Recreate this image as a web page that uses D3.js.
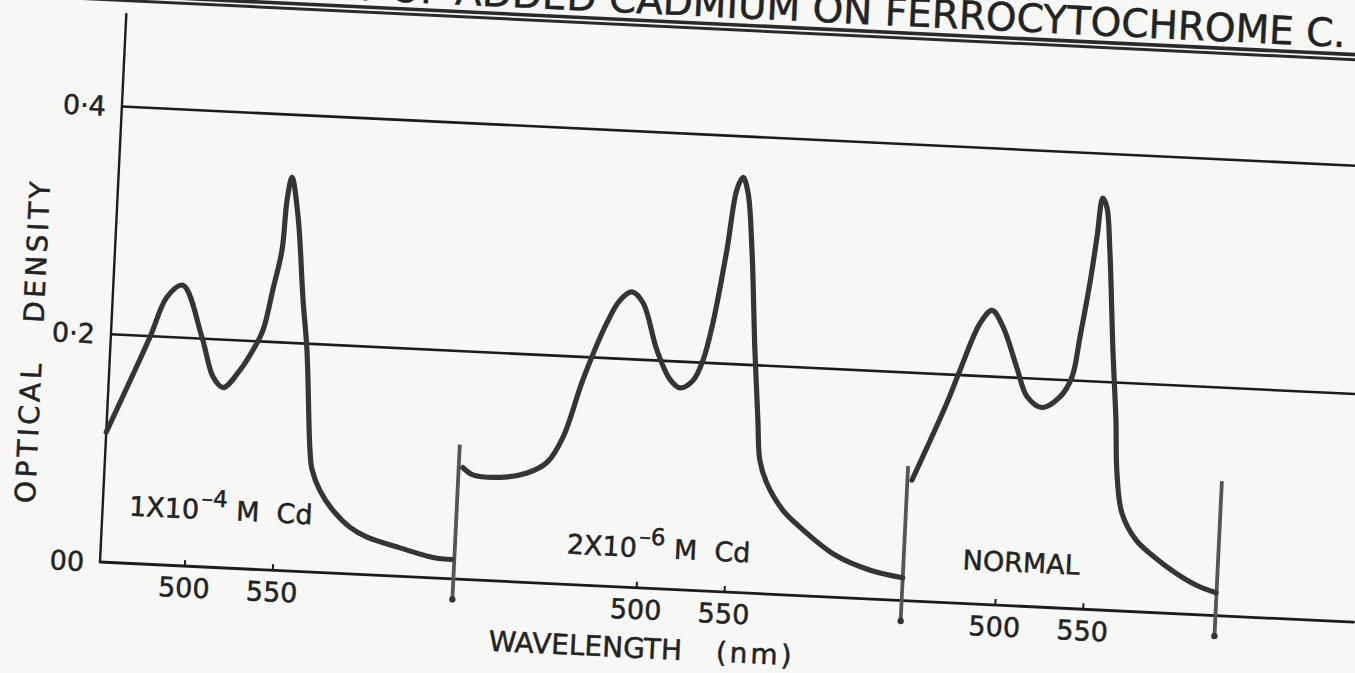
<!DOCTYPE html>
<html>
<head>
<meta charset="utf-8">
<script src="https://cdn.jsdelivr.net/npm/d3@7"></script>
<style>
  html, body { margin: 0; padding: 0; background: #f7f7f5; }
  svg { display: block; }
  text { font-family: "DejaVu Sans", "Noto Sans", sans-serif; fill: #232323; stroke: #232323; stroke-width: 0.5px; }
</style>
</head>
<body>
<script>
// ---- Data ---------------------------------------------------------------
const titleText = "EFFECT OF ADDED CADMIUM ON FERROCYTOCHROME C.";
const yTitle = "OPTICAL   DENSITY";
const xTitle = "WAVELENGTH";
const xUnit = "(nm)";

const odTicks = [0, 0.2, 0.4];
const odTickLabels = ["00", "0\u00B72", "0\u00B74"];
const odAxisTop = 0.482;
const nmTicks = [500, 550];

// wavelength span (nm) covered by each of the three side-by-side spectra
const panelNm = [[452, 653], [396, 651], [447, 625.5]];
const panelNames = ["1X10", "2X10", "NORMAL"];
const panelExponents = ["\u20134", "\u20136", ""];
const panelSuffix = ["M Cd", "M Cd", ""];

// separators between spectra: optical density span of each stroke
const sepOd = [-0.018, 0.118];

// 1x10^-4 M Cd
const cd4Nm = [452, 474.2, 482.8, 491.5, 503.8, 511.1, 517.1, 526.2, 533.0, 538.2, 542.7, 546.8, 548.3, 550.5, 555.0, 560.1, 563.7, 568.1, 569.8, 574.8, 582.8, 592.9, 602.9, 621.9, 640.9, 651.7];
const cd4Od = [0.114, 0.199, 0.235, 0.246, 0.201, 0.167, 0.158, 0.174, 0.192, 0.210, 0.246, 0.281, 0.325, 0.345, 0.311, 0.238, 0.194, 0.107, 0.090, 0.072, 0.055, 0.041, 0.033, 0.025, 0.018, 0.017];

// 2x10^-6 M Cd
const cd6Nm = [398.4, 404.3, 419.6, 434.9, 445.9, 454.4, 464.1, 476.2, 482.9, 489.5, 496.1, 505.3, 513.5, 519.4, 526.6, 531.7, 536.3, 542.3, 546.3, 549.5, 552.7, 556.5, 560.9, 564.5, 566.7, 571.3, 581.2, 591.3, 612.0, 632.8, 651];
const cd6Od = [0.098, 0.092, 0.091, 0.096, 0.106, 0.129, 0.180, 0.231, 0.251, 0.259, 0.250, 0.209, 0.184, 0.177, 0.184, 0.202, 0.235, 0.300, 0.353, 0.364, 0.351, 0.301, 0.213, 0.152, 0.117, 0.097, 0.074, 0.060, 0.037, 0.025, 0.020];

// normal
const normNm = [449.6, 467.3, 473.8, 483.9, 490.4, 497.1, 506.0, 512.6, 521.4, 531.3, 537.6, 541.0, 545.2, 548.0, 550.2, 552.8, 555.6, 560.1, 563.7, 565.7, 569.6, 578.3, 589.0, 601.4, 613.6, 625.2];
const normOd = [0.106, 0.175, 0.204, 0.246, 0.258, 0.244, 0.209, 0.184, 0.175, 0.185, 0.203, 0.238, 0.286, 0.327, 0.361, 0.353, 0.316, 0.228, 0.167, 0.121, 0.086, 0.063, 0.049, 0.036, 0.026, 0.020];

const spectra = [
  { nm: cd4Nm, od: cd4Od },
  { nm: cd6Nm, od: cd6Od },
  { nm: normNm, od: normOd }
];

// ---- Layout -------------------------------------------------------------
const W = 1355, H = 673;
const tilt = 2.75;             // the whole drawing sits slightly askew
const pxPerNm = 1.76;
const ink = "#1c1c1c";

const svg = d3.select("body").append("svg")
  .attr("width", W).attr("height", H);
svg.append("rect").attr("width", W).attr("height", H).attr("fill", "#f7f7f5");

const g = svg.append("g")
  .attr("transform", `translate(100,562) rotate(${tilt})`);

const y = d3.scaleLinear().domain([0, 0.4]).range([0, -456]);

let cursor = 0;
const xs = panelNm.map(r => {
  const w = (r[1] - r[0]) * pxPerNm;
  const s = d3.scaleLinear().domain(r).range([cursor, cursor + w]);
  cursor += w;
  return s;
});

// ---- Title with double underline ----------------------------------------
g.append("text")
  .attr("x", 1219).attr("y", -574)
  .attr("text-anchor", "end")
  .attr("font-size", 39)
  .text(titleText);
g.append("line").attr("x1", -200).attr("x2", 1300).attr("y1", -567).attr("y2", -567)
  .attr("stroke", "#2a2a2a").attr("stroke-width", 3.6);
g.append("line").attr("x1", -200).attr("x2", 1300).attr("y1", -562).attr("y2", -562)
  .attr("stroke", "#2a2a2a").attr("stroke-width", 3);

// ---- Grid lines and axes ------------------------------------------------
g.selectAll("line.grid").data(odTicks.filter(d => d > 0)).enter().append("line")
  .attr("class", "grid")
  .attr("x1", 0).attr("x2", 1320)
  .attr("y1", d => y(d)).attr("y2", d => y(d))
  .attr("stroke", ink).attr("stroke-width", 2.6);

g.append("line")
  .attr("x1", 0).attr("x2", 1255)
  .attr("y1", y(0)).attr("y2", y(0))
  .attr("stroke", ink).attr("stroke-width", 2.8).attr("stroke-linecap", "round");

g.append("line")
  .attr("x1", 0).attr("x2", 0)
  .attr("y1", y(0)).attr("y2", y(odAxisTop))
  .attr("stroke", ink).attr("stroke-width", 2.4);

g.selectAll("text.ytick").data(odTicks).enter().append("text")
  .attr("class", "ytick")
  .attr("x", -16).attr("y", d => y(d))
  .attr("dy", "0.36em")
  .attr("text-anchor", "end")
  .attr("font-size", 27)
  .text((d, i) => odTickLabels[i]);

g.append("text")
  .attr("transform", "translate(-68,-218) rotate(-90)")
  .attr("text-anchor", "middle")
  .attr("font-size", 28)
  .attr("letter-spacing", 3.5)
  .style("white-space", "pre")
  .text(yTitle);

// ---- Wavelength ticks for each spectrum ---------------------------------
xs.forEach(s => {
  const ax = g.append("g")
    .call(d3.axisBottom(s).tickValues(nmTicks).tickSize(-6).tickPadding(12));
  ax.select(".domain").remove();
  ax.selectAll(".tick line").attr("stroke", ink).attr("stroke-width", 2);
  ax.selectAll(".tick text")
    .attr("font-size", 27)
    .attr("font-family", "DejaVu Sans, sans-serif")
    .attr("fill", "#232323");
});

const xt = g.append("text")
  .attr("x", 392).attr("y", 70)
  .attr("font-size", 28)
  .text(xTitle);
xt.append("tspan").attr("dx", 34).attr("letter-spacing", 3).text(xUnit);

// ---- Separators between spectra -----------------------------------------
const sepX = xs.map(s => s.range()[1]);
g.selectAll("line.sep").data(sepX).enter().append("line")
  .attr("class", "sep")
  .attr("x1", d => d).attr("x2", d => d)
  .attr("y1", y(sepOd[0])).attr("y2", y(sepOd[1]))
  .attr("stroke", "#555").attr("stroke-width", 3.8);
g.selectAll("circle.sep").data(sepX).enter().append("circle")
  .attr("cx", d => d).attr("cy", y(sepOd[0]))
  .attr("r", 3.2).attr("fill", "#333");

// ---- Spectra ------------------------------------------------------------
spectra.forEach((sp, i) => {
  const pts = sp.nm.map((n, k) => [n, sp.od[k]]);
  const line = d3.line()
    .x(d => xs[i](d[0]))
    .y(d => y(d[1]))
    .curve(d3.curveCatmullRom.alpha(0.5));
  g.append("path")
    .attr("d", line(pts))
    .attr("fill", "none")
    .attr("stroke", "#353535")
    .attr("stroke-width", 5.2)
    .attr("stroke-linejoin", "round")
    .attr("stroke-linecap", "round");
});

// ---- Spectrum labels ----------------------------------------------------
const labelPos = [[467, 0.042], [459.5, 0.027], [480.6, 0.030]];
panelNames.forEach((name, i) => {
  const t = g.append("text")
    .attr("x", xs[i](labelPos[i][0]))
    .attr("y", y(labelPos[i][1]))
    .attr("font-size", 27)
    .style("white-space", "pre")
    .text(name);
  if (panelExponents[i]) {
    t.append("tspan").attr("dy", -13).attr("dx", 2).attr("font-size", 23).text(panelExponents[i]);
    t.append("tspan").attr("dy", 13).attr("dx", 9).text(panelSuffix[i].replace(" ", "  "));
  }
});
</script>
</body>
</html>
